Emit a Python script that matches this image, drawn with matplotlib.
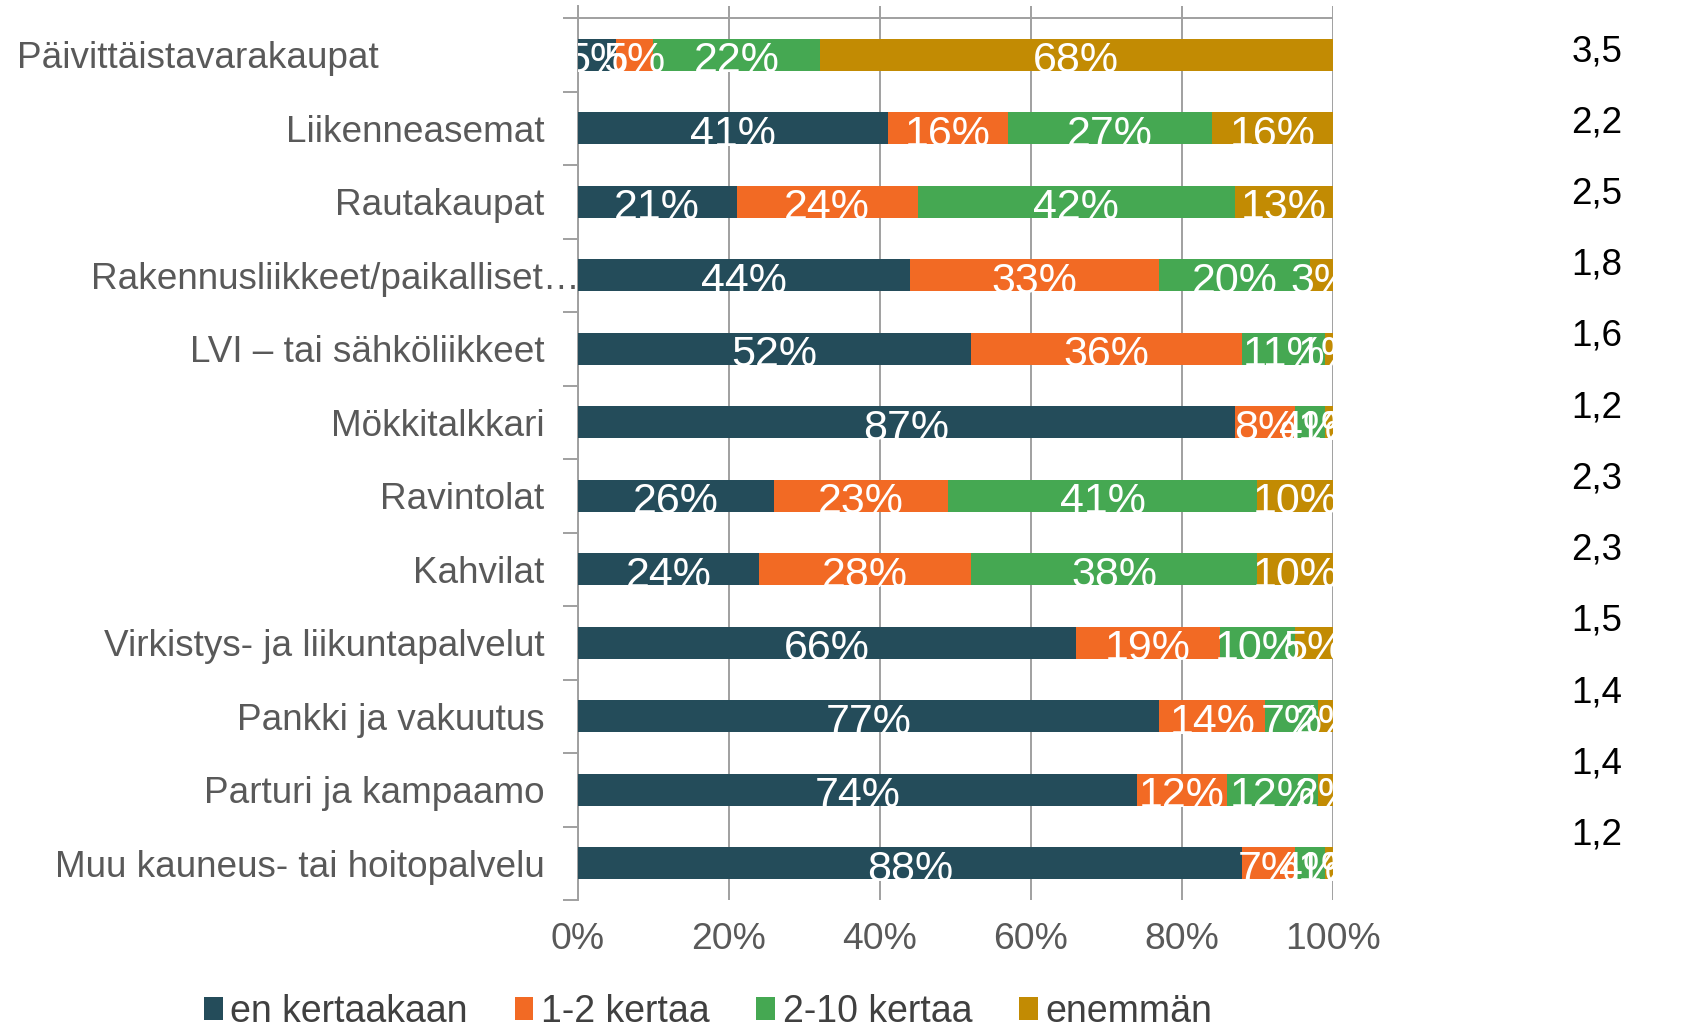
import matplotlib
matplotlib.use("Agg")
import matplotlib.pyplot as plt
import matplotlib.transforms as mtransforms
import numpy as np

plt.rcParams['font.family'] = ['Liberation Sans', 'DejaVu Sans']

categories = [
    "Päivittäistavarakaupat",
    "Liikenneasemat",
    "Rautakaupat",
    "Rakennusliikkeet/paikalliset…",
    "LVI – tai sähköliikkeet",
    "Mökkitalkkari",
    "Ravintolat",
    "Kahvilat",
    "Virkistys- ja liikuntapalvelut",
    "Pankki ja vakuutus",
    "Parturi ja kampaamo",
    "Muu kauneus- tai hoitopalvelu",
]
series_names = ["en kertaakaan", "1-2 kertaa", "2-10 kertaa", "enemmän"]
en_kertaakaan = [5, 41, 21, 44, 52, 87, 26, 24, 66, 77, 74, 88]
kertaa_1_2 = [5, 16, 24, 33, 36, 8, 23, 28, 19, 14, 12, 7]
kertaa_2_10 = [22, 27, 42, 20, 11, 4, 41, 38, 10, 7, 12, 4]
enemman = [68, 16, 13, 3, 1, 1, 10, 10, 5, 2, 2, 1]
averages = ["3,5", "2,2", "2,5", "1,8", "1,6", "1,2", "2,3", "2,3", "1,5", "1,4", "1,4", "1,2"]
xticks = [0, 20, 40, 60, 80, 100]
xticklabels = ["0%", "20%", "40%", "60%", "80%", "100%"]

colors = ["#244C5A", "#F26A24", "#45A852", "#C28B03"]
grid_color = "#A0A0A0"
label_gray = "#595959"

W, H = 1683, 1028
fig = plt.figure(figsize=(W / 100, H / 100), dpi=100)
ax = fig.add_axes([578 / W, 1 - 900 / H, (1333 - 578) / W, (900 - 6) / H])

series = [en_kertaakaan, kertaa_1_2, kertaa_2_10, enemman]
y = np.arange(len(categories))
left = np.zeros(len(categories))
for name, vals, c in zip(series_names, series, colors):
    vals = np.array(vals, dtype=float)
    ax.barh(y, vals, left=left, height=0.435, color=c, label=name, zorder=3)
    for yi, l, v in zip(y, left, vals):
        ax.text(l + v / 2, yi + 0.03, f"{int(v)}%", ha="center", va="center_baseline",
                color="white", fontsize=31, zorder=4, clip_on=True)
    left += vals

ax.set_xlim(0, 100)
extra = 12 / 73.5
ax.set_ylim(len(categories) - 0.5, -0.5 - extra)

ax.set_xticks(xticks)
ax.set_xticklabels(xticklabels, fontsize=26.8, color=label_gray)
ax.tick_params(axis="x", length=0, pad=16)
ax.set_yticks(y)
ax.set_yticklabels(categories, fontsize=26.6, color=label_gray)
ax.tick_params(axis="y", which="major", length=0, pad=24)
ax.set_yticks(np.arange(-0.5, len(categories), 1.0), minor=True)
ax.tick_params(axis="y", which="minor", length=11, width=1.4, color=grid_color)

ylabels = ax.get_yticklabels()
ylabels[3].set_transform(ylabels[3].get_transform() + mtransforms.ScaledTranslation(0.35, 0, fig.dpi_scale_trans))
ylabels[0].set_transform(ylabels[0].get_transform() + mtransforms.ScaledTranslation(-1.66, 0, fig.dpi_scale_trans))

ax.grid(axis="x", color=grid_color, linewidth=1.4, zorder=0)
ax.axhline(-0.5, color=grid_color, linewidth=1.4, zorder=1)
for s in ["top", "right", "bottom"]:
    ax.spines[s].set_visible(False)
ax.spines["left"].set_color(grid_color)
ax.spines["left"].set_linewidth(1.4)

ypos = np.linspace(1 - 51.5 / H, 1 - 835 / H, len(averages))
for yy, a in zip(ypos, averages):
    fig.text(1597 / W, yy, a, ha="center", va="center", fontsize=26.5, color="black")

leg = fig.legend(loc="center", bbox_to_anchor=(708 / W, 1 - 1012 / H), ncol=4,
                 frameon=False, fontsize=27, handlelength=0.5, handleheight=0.55,
                 handletextpad=0.2, columnspacing=1.25, borderaxespad=0)
for t in leg.get_texts():
    t.set_color("#404040")

fig.savefig("out.png", dpi=100)
